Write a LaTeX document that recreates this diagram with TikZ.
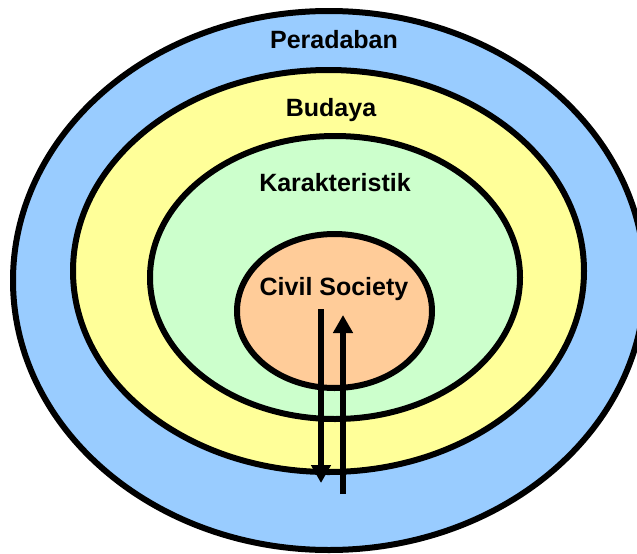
\documentclass[tikz,border=0pt]{standalone}
\usepackage{fontspec}
\setmainfont{Liberation Sans}
\usetikzlibrary{shapes.geometric,arrows.meta}
\definecolor{cblue}{HTML}{99CCFF}
\definecolor{cyellow}{HTML}{FFFF99}
\definecolor{cgreen}{HTML}{CCFFCC}
\definecolor{corange}{HTML}{FFCC99}
\tikzset{
  ring/.style={ellipse, draw=black, line width=6pt, inner sep=0pt},
  lbl/.style={font=\bfseries\fontsize{25}{29}\selectfont, inner sep=0pt},
  flow/.style={line width=6pt, -{Triangle[length=18pt,width=19pt]}}
}
\begin{document}
\begin{tikzpicture}[x=1pt,y=-1pt]
\useasboundingbox (0,0) rectangle (637,554);
\node[ring, fill=cblue, minimum width=632pt, minimum height=539pt] (outer) at (329,280.5) {};
\node[ring, fill=cyellow, minimum width=511pt, minimum height=402pt] (yellow) at (328.5,271) {};
\node[ring, fill=cgreen, minimum width=370pt, minimum height=283pt] (green) at (335,277.5) {};
\node[ring, fill=corange, minimum width=195pt, minimum height=154pt] (core) at (334.5,311) {};
\node[lbl] (tper) at (334,40) {Peradaban};
\node[lbl] (tbud) at (331,110) {Budaya};
\node[lbl] (tkar) at (335,183) {Karakteristik};
\node[lbl] (tcs) at (334,289) {Civil Society};
\coordinate (d1) at (321,309);
\coordinate (d2) at (321,483);
\coordinate (u1) at (343,494);
\coordinate (u2) at (343,315);
\draw[flow] (d1) -- (d2);
\draw[flow] (u1) -- (u2);
\end{tikzpicture}
\end{document}
